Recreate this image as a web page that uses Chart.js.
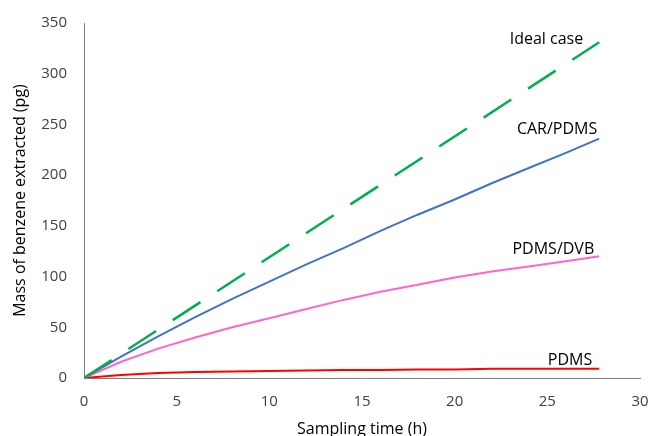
<!DOCTYPE html>
<html>
<head>
<meta charset="utf-8">
<script src="https://cdn.jsdelivr.net/npm/chart.js@4"></script>
<style>
  html, body { margin: 0; padding: 0; background: #fff; }
  #wrap { width: 650px; height: 436px; }
</style>
</head>
<body>
<div id="wrap"><canvas id="massChart" width="650" height="436"></canvas></div>
<script>
// sampling times (h)
const times = [0, 2, 4, 6, 8, 10, 12, 14, 16, 18, 20, 22, 24, 26, 27.8];
const carPdms = [0, 21, 41, 60, 78, 95, 112, 128, 145, 161, 176, 192, 207, 222, 236];
const pdmsDvb = [0, 16, 29, 40, 50, 59, 68, 77, 85, 92, 99, 105, 110, 115, 120];
const pdms = [0, 3, 5, 6, 6.5, 7, 7.5, 8, 8, 8.5, 8.5, 9, 9, 9, 9];
const idealTimes = [0, 27.8];
const idealCase = [0, 331];

const xTicks = [0, 5, 10, 15, 20, 25, 30];
const yTicks = [0, 50, 100, 150, 200, 250, 300, 350];

function pts(xs, ys) {
    return xs.map((x, i) => ({ x: x, y: ys[i] }));
}

const FONT = "'Open Sans', 'Noto Sans', sans-serif";

// series name drawn near the end of each line
const endLabels = {
    id: 'endLabels',
    afterDatasetsDraw(chart) {
        const ctx = chart.ctx;
        const xs = chart.scales.x, ys = chart.scales.y;
        ctx.save();
        ctx.font = '16px ' + FONT;
        ctx.fillStyle = '#000';
        ctx.textAlign = 'right';
        ctx.textBaseline = 'middle';
        chart.data.datasets.forEach(ds => {
            const last = ds.data[ds.data.length - 1];
            const off = ds.labelOffset;
            ctx.fillText(ds.label, xs.getPixelForValue(last.x) + off[0], ys.getPixelForValue(last.y) + off[1]);
        });
        ctx.restore();
    }
};

const massCtx = document.getElementById('massChart').getContext('2d');

const massChart = new Chart(massCtx, {
    type: 'line',
    data: {
        datasets: [{
            label: 'Ideal case',
            data: pts(idealTimes, idealCase),
            borderColor: '#00b050',
            borderWidth: 2.5,
            borderDash: [33, 20],
            pointRadius: 0,
            labelOffset: [-16, -3]
        }, {
            label: 'CAR/PDMS',
            data: pts(times, carPdms),
            borderColor: '#4472c4',
            borderWidth: 2,
            pointRadius: 0,
            labelOffset: [-2, -9]
        }, {
            label: 'PDMS/DVB',
            data: pts(times, pdmsDvb),
            borderColor: '#ff66cc',
            borderWidth: 2,
            pointRadius: 0,
            labelOffset: [-5, -7]
        }, {
            label: 'PDMS',
            data: pts(times, pdms),
            borderColor: '#ff0000',
            borderWidth: 2,
            pointRadius: 0,
            labelOffset: [-7, -8]
        }]
    },
    options: {
        responsive: false,
        animation: false,
        layout: { padding: { top: 23, right: 10, left: 0, bottom: 0 } },
        plugins: {
            legend: { display: false },
            tooltip: { enabled: false }
        },
        scales: {
            x: {
                type: 'linear',
                min: 0,
                max: 30,
                afterBuildTicks: s => { s.ticks = xTicks.map(v => ({ value: v })); },
                afterFit: s => { s.height = 58; s.paddingLeft = 0; s.paddingRight = 0; },
                grid: { display: false, drawTicks: false },
                border: { display: true, color: '#7f7f7f', width: 1 },
                ticks: { color: '#404040', font: { family: FONT, size: 15 }, padding: 15, maxRotation: 0 },
                title: {
                    display: true,
                    text: 'Sampling time (h)',
                    color: '#000',
                    font: { family: FONT, size: 16 },
                    padding: { top: 2, bottom: -3 }
                }
            },
            y: {
                min: 0,
                max: 350,
                afterBuildTicks: s => { s.ticks = yTicks.map(v => ({ value: v })); },
                afterFit: s => { s.width = 84; s.paddingTop = 0; s.paddingBottom = 0; },
                grid: { display: false, drawTicks: false },
                border: { display: true, color: '#7f7f7f', width: 1 },
                ticks: { color: '#404040', font: { family: FONT, size: 15 }, padding: 17 },
                title: {
                    display: true,
                    text: 'Mass of benzene extracted (pg)',
                    color: '#000',
                    font: { family: FONT, size: 16 },
                    padding: { top: 11, bottom: 4 }
                }
            }
        }
    },
    plugins: [endLabels]
});
</script>
</body>
</html>
